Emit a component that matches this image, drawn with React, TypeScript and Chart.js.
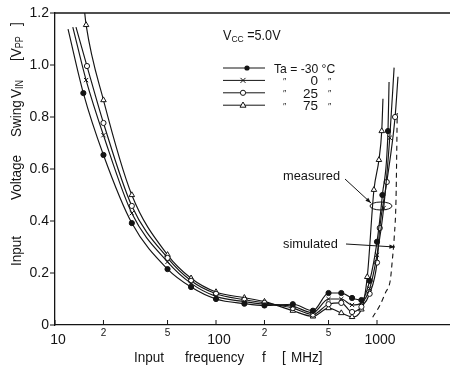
import React, { useEffect, useRef } from "react";
import { Chart, registerables } from "chart.js";

Chart.register(...registerables);

// ---- axis ticks ----
const xTickValues = [10, 20, 50, 100, 200, 500, 1000];
const xTickLabels = ["10", "2", "5", "100", "2", "5", "1000"];
const yTickValues = [0, 0.2, 0.4, 0.6, 0.8, 1.0, 1.2];
const yTickLabels = ["0", "0.2", "0.4", "0.6", "0.8", "1.0", "1.2"];

// ---- series: input frequency [MHz] / input voltage swing [Vpp] ----
// first and last point of each measured series are line-only extensions
const freqM30 = [12.05, 15, 20, 30, 50, 70, 100, 150, 200, 300, 400, 500, 600, 700, 800, 900, 1000, 1080, 1170, 1188];
const vinM30 = [1.138, 0.892, 0.654, 0.392, 0.215, 0.146, 0.1, 0.082, 0.075, 0.08, 0.055, 0.123, 0.123, 0.104, 0.096, 0.17, 0.32, 0.5, 0.746, 0.935];

const freq0 = [12.9, 15.6, 20, 30, 50, 70, 100, 150, 200, 300, 400, 500, 600, 700, 800, 900, 1000, 1100, 1200, 1277];
const vin0 = [1.146, 0.942, 0.73, 0.43, 0.243, 0.16, 0.11, 0.09, 0.08, 0.072, 0.047, 0.1, 0.1, 0.077, 0.085, 0.14, 0.27, 0.45, 0.72, 0.99];

const freq25 = [13.5, 15.8, 20, 30, 50, 70, 100, 150, 200, 300, 400, 500, 600, 700, 800, 900, 1000, 1040, 1150, 1295, 1350];
const vin25 = [1.146, 0.996, 0.777, 0.458, 0.258, 0.17, 0.12, 0.097, 0.085, 0.065, 0.04, 0.08, 0.085, 0.05, 0.07, 0.12, 0.24, 0.373, 0.55, 0.8, 0.955];

const freq75 = [15.3, 15.6, 20, 30, 50, 70, 100, 150, 200, 300, 400, 500, 600, 700, 800, 870, 957, 1028, 1070, 1089];
const vin75 = [1.2, 1.154, 0.865, 0.5, 0.27, 0.18, 0.127, 0.105, 0.09, 0.055, 0.033, 0.065, 0.046, 0.031, 0.06, 0.185, 0.52, 0.635, 0.746, 0.87];

const freqSim = [940, 1045, 1130, 1210, 1240, 1280, 1312, 1325, 1335];
const vinSim = [0.03, 0.077, 0.125, 0.173, 0.238, 0.34, 0.48, 0.65, 0.815];

const tempLabels = ["-30", "0", "25", "75"];

const INK = "#141414";
const FONT = '"Liberation Sans", Arial, sans-serif';

type Piece = { t: string; size: number; dy?: number; at?: number };

function drawPieces(ctx: CanvasRenderingContext2D, x: number, y: number, angle: number, pieces: Piece[], sx: number) {
  ctx.save();
  ctx.translate(x, y);
  ctx.rotate(angle);
  ctx.fillStyle = INK;
  ctx.textBaseline = "middle";
  ctx.textAlign = "left";
  let cx = 0;
  for (const p of pieces) {
    if (p.at !== undefined) cx = p.at;
    ctx.font = `${p.size}px ${FONT}`;
    ctx.save();
    ctx.translate(cx, p.dy || 0);
    ctx.scale(sx, 1);
    ctx.fillText(p.t, 0, 0);
    ctx.restore();
    cx += ctx.measureText(p.t).width * sx;
  }
  ctx.restore();
}

function drawMarker(ctx: CanvasRenderingContext2D, kind: number, x: number, y: number) {
  ctx.save();
  ctx.strokeStyle = INK;
  ctx.lineWidth = 1;
  ctx.beginPath();
  if (kind === 0) {
    ctx.arc(x, y, 2.6, 0, Math.PI * 2);
    ctx.fillStyle = INK;
    ctx.fill();
  } else if (kind === 1) {
    ctx.moveTo(x - 2.5, y - 2.5);
    ctx.lineTo(x + 2.5, y + 2.5);
    ctx.moveTo(x + 2.5, y - 2.5);
    ctx.lineTo(x - 2.5, y + 2.5);
    ctx.stroke();
  } else if (kind === 2) {
    ctx.arc(x, y, 2.6, 0, Math.PI * 2);
    ctx.fillStyle = "#fff";
    ctx.fill();
    ctx.stroke();
  } else {
    ctx.moveTo(x, y - 3.2);
    ctx.lineTo(x + 3, y + 2);
    ctx.lineTo(x - 3, y + 2);
    ctx.closePath();
    ctx.fillStyle = "#fff";
    ctx.fill();
    ctx.stroke();
  }
  ctx.restore();
}

function arrow(ctx: CanvasRenderingContext2D, x1: number, y1: number, x2: number, y2: number) {
  ctx.save();
  ctx.strokeStyle = INK;
  ctx.fillStyle = INK;
  ctx.lineWidth = 1;
  ctx.beginPath();
  ctx.moveTo(x1, y1);
  ctx.lineTo(x2, y2);
  ctx.stroke();
  const a = Math.atan2(y2 - y1, x2 - x1);
  ctx.beginPath();
  ctx.moveTo(x2, y2);
  ctx.lineTo(x2 - 6 * Math.cos(a - 0.35), y2 - 6 * Math.sin(a - 0.35));
  ctx.lineTo(x2 - 6 * Math.cos(a + 0.35), y2 - 6 * Math.sin(a + 0.35));
  ctx.closePath();
  ctx.fill();
  ctx.restore();
}

const decorPlugin = {
  id: "decor",
  afterDraw(chart: any) {
    const { ctx, chartArea, scales } = chart;
    const xs = scales.x;
    const ys = scales.y;
    ctx.save();
    ctx.strokeStyle = INK;
    ctx.fillStyle = INK;
    // top frame line
    ctx.lineWidth = 1.3;
    ctx.beginPath();
    ctx.moveTo(chartArea.left, chartArea.top);
    ctx.lineTo(chartArea.right + 1, chartArea.top);
    ctx.stroke();

    // x ticks (inward) + labels
    ctx.lineWidth = 1;
    xTickValues.forEach((v, i) => {
      const px = xs.getPixelForValue(v);
      ctx.beginPath();
      ctx.moveTo(px, chartArea.bottom);
      ctx.lineTo(px, chartArea.bottom - 5);
      ctx.stroke();
      const major = xTickLabels[i].length > 1;
      ctx.font = `${major ? 14 : 10}px ${FONT}`;
      ctx.textAlign = "center";
      ctx.textBaseline = "middle";
      ctx.fillText(xTickLabels[i], px + (major ? 3 : 0), chartArea.bottom + (major ? 15 : 8));
    });

    // y ticks (outward) + labels
    yTickValues.forEach((v, i) => {
      const py = ys.getPixelForValue(v);
      ctx.beginPath();
      ctx.moveTo(chartArea.left, py);
      ctx.lineTo(chartArea.left - 5, py);
      ctx.stroke();
      ctx.font = `14px ${FONT}`;
      ctx.textAlign = "right";
      ctx.textBaseline = "middle";
      ctx.fillText(yTickLabels[i], chartArea.left - 6, py);
    });

    // axis titles
    drawPieces(ctx, 0, 358, 0, [
      { t: "Input", size: 15, at: 134 },
      { t: "frequency", size: 15, at: 185 },
      { t: "f", size: 15, at: 262 },
      { t: "[", size: 15, at: 282 },
      { t: "MHz]", size: 15, at: 291 },
    ], 0.9);
    drawPieces(ctx, 17, 0, -Math.PI / 2, [
      { t: "Input", size: 15, at: -266 },
      { t: "Voltage", size: 15, at: -200 },
      { t: "Swing", size: 15, at: -137 },
      { t: "V", size: 15, at: -98 },
      { t: "IN", size: 10, dy: 3 },
      { t: "[V", size: 15, at: -61 },
      { t: "PP", size: 10, dy: 3 },
      { t: "]", size: 15, at: -26 },
    ], 0.9);

    // legend
    drawPieces(ctx, 223, 36, 0, [
      { t: "V", size: 14 },
      { t: "CC", size: 9.5, dy: 3 },
      { t: " =5.0V", size: 14 },
    ], 0.9);
    tempLabels.forEach((lab, i) => {
      const ly = 68 + i * 12.4;
      ctx.lineWidth = 1;
      ctx.beginPath();
      ctx.moveTo(223, ly);
      ctx.lineTo(265, ly);
      ctx.stroke();
      drawMarker(ctx, i, i === 0 ? 247 : 243, ly);
      if (i === 0) {
        drawPieces(ctx, 274, ly + 1, 0, [{ t: "Ta = -30 °C", size: 13.5 }], 0.9);
      } else {
        drawPieces(ctx, 283, ly + 1, 0, [{ t: "\u2033", size: 9 }], 1);
        ctx.font = `13.5px ${FONT}`;
        ctx.textAlign = "right";
        ctx.textBaseline = "middle";
        ctx.fillText(lab, 318, ly + 1);
        drawPieces(ctx, 328, ly + 1, 0, [{ t: "\u2033", size: 9 }], 1);
      }
    });

    // annotations
    drawPieces(ctx, 283, 176, 0, [{ t: "measured", size: 13.5 }], 0.95);
    drawPieces(ctx, 283, 244, 0, [{ t: "simulated", size: 13.5 }], 0.95);
    arrow(ctx, 345, 179, 371, 203);
    ctx.lineWidth = 1;
    ctx.beginPath();
    ctx.ellipse(381, 206, 11, 4, 0, 0, Math.PI * 2);
    ctx.stroke();
    arrow(ctx, 346, 244, 395, 247);
    ctx.restore();
  },
};

function series(label: string, xs: number[], ys: number[], style: string, fill: string, radius: number) {
  const last = xs.length - 1;
  return {
    label,
    data: xs.map((f, i) => ({ x: f, y: ys[i] })),
    borderColor: INK,
    borderWidth: 1.15,
    pointStyle: style,
    pointRadius: (c: any) => (c.dataIndex === 0 || c.dataIndex === last ? 0 : radius),
    pointBackgroundColor: fill,
    pointBorderColor: INK,
    pointBorderWidth: 1,
    cubicInterpolationMode: "monotone",
    fill: false,
  };
}

export default function App() {
  const ref = useRef<HTMLCanvasElement | null>(null);
  useEffect(() => {
    if (!ref.current) return;
    const chart = new Chart(ref.current, {
      type: "line",
      data: {
        datasets: [
          series("Ta = -30 °C", freqM30, vinM30, "circle", INK, 2.6),
          series("0 °C", freq0, vin0, "crossRot", INK, 3),
          series("25 °C", freq25, vin25, "circle", "#fff", 2.6),
          series("75 °C", freq75, vin75, "triangle", "#fff", 3.2),
          {
            label: "simulated",
            data: freqSim.map((f, i) => ({ x: f, y: vinSim[i] })),
            borderColor: INK,
            borderWidth: 1.1,
            borderDash: [5, 4],
            pointRadius: 0,
            cubicInterpolationMode: "monotone",
            fill: false,
          },
        ] as any,
      },
      options: {
        animation: false,
        responsive: false,
        maintainAspectRatio: false,
        devicePixelRatio: 1,
        layout: { padding: { top: 13, right: 1, left: 0, bottom: 0 } },
        plugins: { legend: { display: false }, tooltip: { enabled: false } },
        scales: {
          x: {
            type: "logarithmic",
            min: 10,
            max: 2800,
            ticks: { display: false },
            grid: { display: false, drawTicks: false },
            border: { display: true, color: INK, width: 1.3 },
            afterFit: (s: any) => {
              s.height = 48;
            },
          },
          y: {
            type: "linear",
            min: 0,
            max: 1.2,
            ticks: { display: false },
            grid: { display: false, drawTicks: false },
            border: { display: true, color: INK, width: 1.3 },
            afterFit: (s: any) => {
              s.width = 55;
            },
          },
        },
      } as any,
      plugins: [decorPlugin],
    });
    return () => chart.destroy();
  }, []);
  return (
    <div style={{ position: "fixed", left: 0, top: 0, width: 450, height: 373, background: "#fff" }}>
      <canvas ref={ref} width={450} height={373} style={{ width: 450, height: 373 }} />
    </div>
  );
}
